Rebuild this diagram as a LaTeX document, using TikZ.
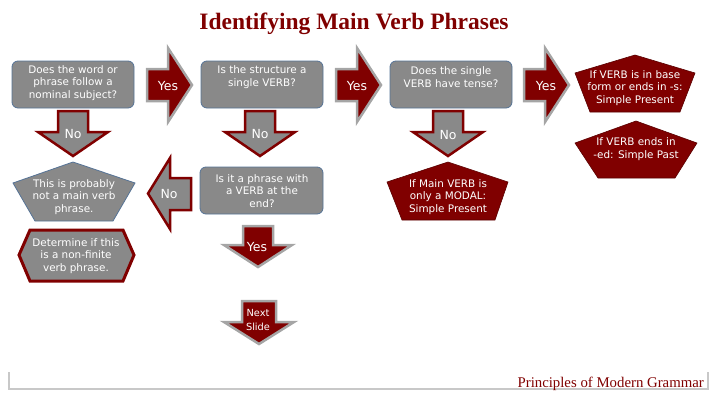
\documentclass[tikz,border=0pt]{standalone}
\usepackage{fontspec}
\setmainfont{Liberation Serif}
\newfontfamily\boxfont{DejaVu Sans}
\definecolor{dred}{RGB}{128,0,0}
\definecolor{bgray}{RGB}{137,137,137}
\definecolor{bblue}{RGB}{85,115,150}
\definecolor{agray}{RGB}{165,165,165}
\definecolor{lgray}{RGB}{200,200,200}
\tikzset{
 qbox/.style={fill=bgray, draw=bblue, line width=0.8pt, rounded corners=6pt},
 yesarr/.style={fill=dred, draw=agray, line width=2.5pt, line join=miter},
 noarr/.style={fill=bgray, draw=dred, line width=2.5pt, line join=miter},
 redshape/.style={fill=dred, draw=dred!70!black, line width=0.6pt},
 grayshape/.style={fill=bgray, draw=bblue, line width=0.8pt},
 hexshape/.style={fill=bgray, draw=dred, line width=3pt, line join=miter},
 txt/.style={text=white, font=\boxfont\fontsize{10.4}{12.8}\selectfont, align=center, inner sep=0pt},
 arrtxt/.style={text=white, font=\boxfont\fontsize{12.5}{14}\selectfont, inner sep=0pt},
 footline/.style={draw=lgray, line width=1.2pt},
}
\begin{document}
\begin{tikzpicture}[x=1pt,y=-1pt]
\useasboundingbox (0,0) rectangle (720,405);
% title
\node[text=dred, font=\bfseries\fontsize{23.5}{26}\selectfont, inner sep=0pt] (title) at (354,24) {Identifying Main Verb Phrases};
% question boxes
\draw[qbox] (12,61) rectangle (134,108);
\node[txt] (q1) at (73,83) {Does the word or\\phrase follow a\\nominal subject?};
\draw[qbox] (201,61) rectangle (323,108);
\node[txt] (q2) at (262,77) {Is the structure a\\single VERB?};
\draw[qbox] (390,61) rectangle (512,108);
\node[txt] (q3) at (451,77) {Does the single\\VERB have tense?};
\draw[qbox] (200,167) rectangle (323,214);
\node[txt] (q4) at (262,191) {Is it a phrase with\\a VERB at the\\end?};
% yes arrows (right)
\foreach \xo in {147,336,524}{
  \draw[yesarr] (\xo,69) -- (\xo+21,69) -- (\xo+21,48) -- (\xo+45,85) -- (\xo+21,122) -- (\xo+21,101) -- (\xo,101) -- cycle;
}
\node[arrtxt] (yes1) at (168,86) {Yes};
\node[arrtxt] (yes2) at (357,86) {Yes};
\node[arrtxt] (yes3) at (546,86) {Yes};
% no arrows (down)
\foreach \cx in {73,260,448}{
  \draw[noarr] (\cx-15,111) -- (\cx+15,111) -- (\cx+15,132) -- (\cx+35,132) -- (\cx,156) -- (\cx-35,132) -- (\cx-15,132) -- cycle;
}
\node[arrtxt] (no1) at (73,134) {No};
\node[arrtxt] (no2) at (260,134) {No};
\node[arrtxt] (no3) at (448,135) {No};
% no arrow (left)
\draw[noarr] (191,178) -- (191,210) -- (170,210) -- (170,229) -- (148,193.5) -- (170,158) -- (170,178) -- cycle;
\node[arrtxt] (no4) at (169,194) {No};
% yes arrow (down)
\draw[yesarr] (243,226) -- (273,226) -- (273,245) -- (292,245) -- (258,267) -- (224,245) -- (243,245) -- cycle;
\node[arrtxt] (yes4) at (257,247) {Yes};
% next slide arrow
\draw[yesarr] (242,301) -- (276,301) -- (276,322) -- (294,322) -- (259,344) -- (224,322) -- (242,322) -- cycle;
\node[txt, font=\boxfont\fontsize{9.8}{13.5}\selectfont] (next) at (258,320) {Next\\Slide};
% red pentagons
\draw[redshape] (635,55) -- (695,73) -- (680,112) -- (590,112) -- (575,73) -- cycle;
\node[txt] (r1) at (635,88) {If VERB is in base\\form or ends in -s:\\Simple Present};
\draw[redshape] (636,121) -- (697,143) -- (675,178) -- (598,178) -- (575,143) -- cycle;
\node[txt] (r2) at (636,149) {If VERB ends in\\-ed: Simple Past};
\draw[redshape] (448,162) -- (508,182) -- (495,220) -- (402,220) -- (387,182) -- cycle;
\node[txt] (r3) at (448,197) {If Main VERB is\\only a MODAL:\\Simple Present};
% gray pentagon
\draw[grayshape] (73,162) -- (135,183) -- (113,221) -- (35,221) -- (13,183) -- cycle;
\node[txt] (g1) at (74,197) {This is probably\\not a main verb\\phrase.};
% hexagon
\draw[hexshape] (19,255) -- (30,230) -- (123,230) -- (134,255) -- (123,281) -- (30,281) -- cycle;
\node[txt] (h1) at (76,256) {Determine if this\\is a non-finite\\verb phrase.};
% footer
\draw[footline] (9,372) -- (9,389) -- (708,389) -- (708,372);
\node[text=dred, font=\fontsize{14.8}{16}\selectfont, inner sep=0pt, anchor=base east] (foot) at (704,387) {Principles of\ Modern Grammar};
\end{tikzpicture}
\end{document}
